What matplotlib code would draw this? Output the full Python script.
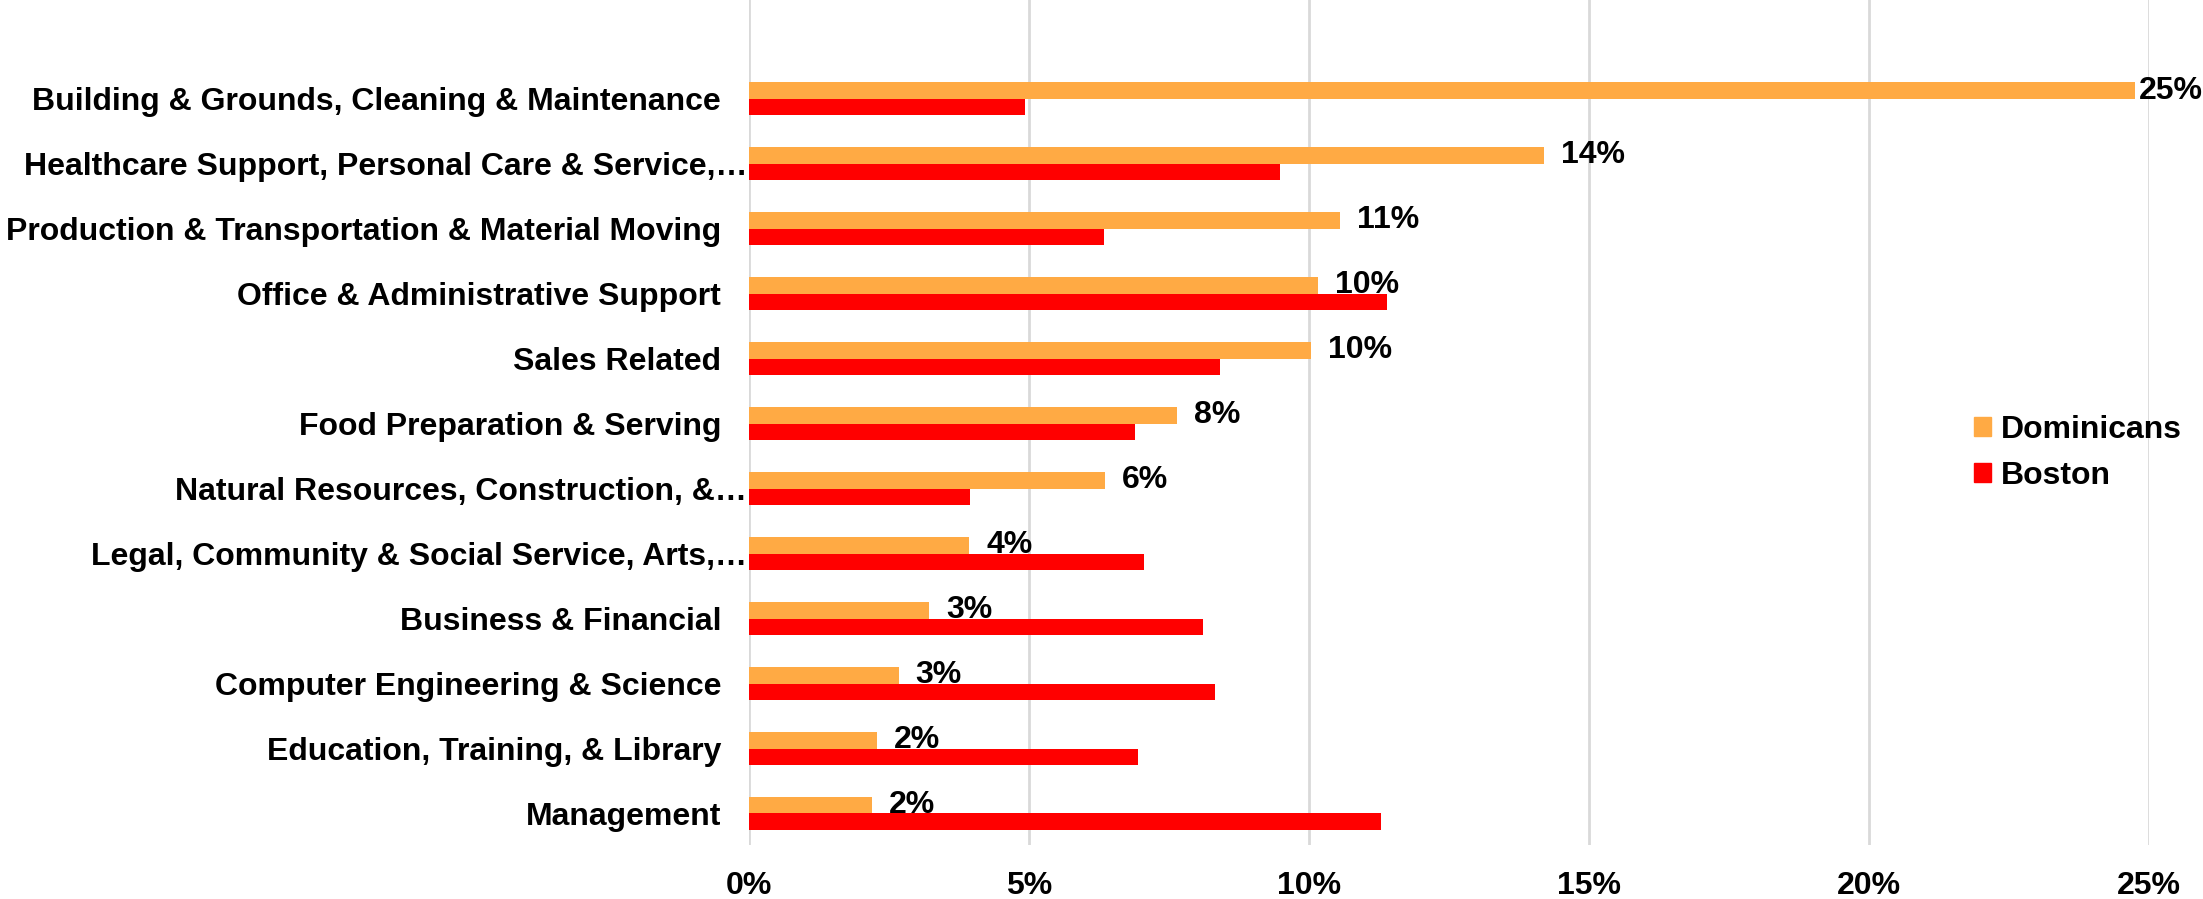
import numpy as np
import matplotlib.pyplot as plt
import matplotlib.transforms as mtransforms
from matplotlib.patches import Patch

# -------------------------------
# Data (share of workers, %)
# -------------------------------
categories = [
    "Building & Grounds, Cleaning & Maintenance",
    "Healthcare Support, Personal Care & Service,\u2026",
    "Production & Transportation & Material Moving",
    "Office & Administrative Support",
    "Sales Related",
    "Food Preparation & Serving",
    "Natural Resources, Construction, &\u2026",
    "Legal, Community & Social Service, Arts,\u2026",
    "Business & Financial",
    "Computer Engineering & Science",
    "Education, Training, & Library",
    "Management",
]
dominicans = [24.75, 14.2, 10.55, 10.16, 10.03, 7.64, 6.35, 3.93, 3.22, 2.67, 2.29, 2.19]
boston = [4.93, 9.49, 6.34, 11.39, 8.41, 6.9, 3.95, 7.05, 8.1, 8.33, 6.95, 11.28]
xticks = [0, 5, 10, 15, 20, 25]

c_dom = "#FFAA44"
c_bos = "#FF0000"

plt.rcParams["font.family"] = ["Liberation Sans", "DejaVu Sans"]
plt.rcParams["font.weight"] = "bold"
fs = 23

fig = plt.figure(figsize=(22.03, 8.99), dpi=100)
ax = fig.add_axes([749 / 2203, 54 / 899, 1400 / 2203, 845 / 899])

n = len(categories)
y = np.arange(n)[::-1]  # first category at the top
h = 0.254

ax.barh(y + h / 2, dominicans, height=h, color=c_dom, zorder=3)
ax.barh(y - h / 2, boston, height=h, color=c_bos, zorder=3)

# data labels for Dominicans only
for yi, v in zip(y, dominicans):
    off = 17 if v < 24 else 4
    ax.annotate(f"{v:.0f}%", (v, yi + h / 2), xytext=(off * 0.72, 0),
                textcoords="offset points", va="center", ha="left",
                fontsize=fs, fontweight="bold", zorder=4, annotation_clip=False)

ax.set_xlim(0, 25)
ax.set_ylim(-0.485, n - 1 + 1.52)
ax.set_xticks(xticks)
ax.set_xticklabels([f"{t}%" for t in xticks], fontsize=fs, fontweight="bold")
ax.set_yticks(y)
ax.set_yticklabels(categories, fontsize=fs, fontweight="bold")
ax.tick_params(axis="both", length=0)
ax.tick_params(axis="x", pad=18.5)
ax.tick_params(axis="y", pad=20)

# truncated labels run a bit further right, up to the axis
shift = mtransforms.ScaledTranslation(26 / 100, 0, fig.dpi_scale_trans)
for lab in ax.get_yticklabels():
    if lab.get_text().endswith("\u2026"):
        lab.set_transform(lab.get_transform() + shift)

ax.grid(axis="x", color="#D9D9D9", linewidth=2, zorder=0)
for s in ax.spines.values():
    s.set_visible(False)

handles = [Patch(color=c_dom, label="Dominicans"), Patch(color=c_bos, label="Boston")]
ax.legend(handles=handles, loc="center left", bbox_to_anchor=(1945 / 2203, 446 / 899),
          bbox_transform=fig.transFigure, frameon=False,
          handlelength=0.55, handleheight=0.55, handletextpad=0.3, labelspacing=0.5,
          prop={"size": fs, "weight": "bold"})

fig.savefig("out.png", dpi=100)
